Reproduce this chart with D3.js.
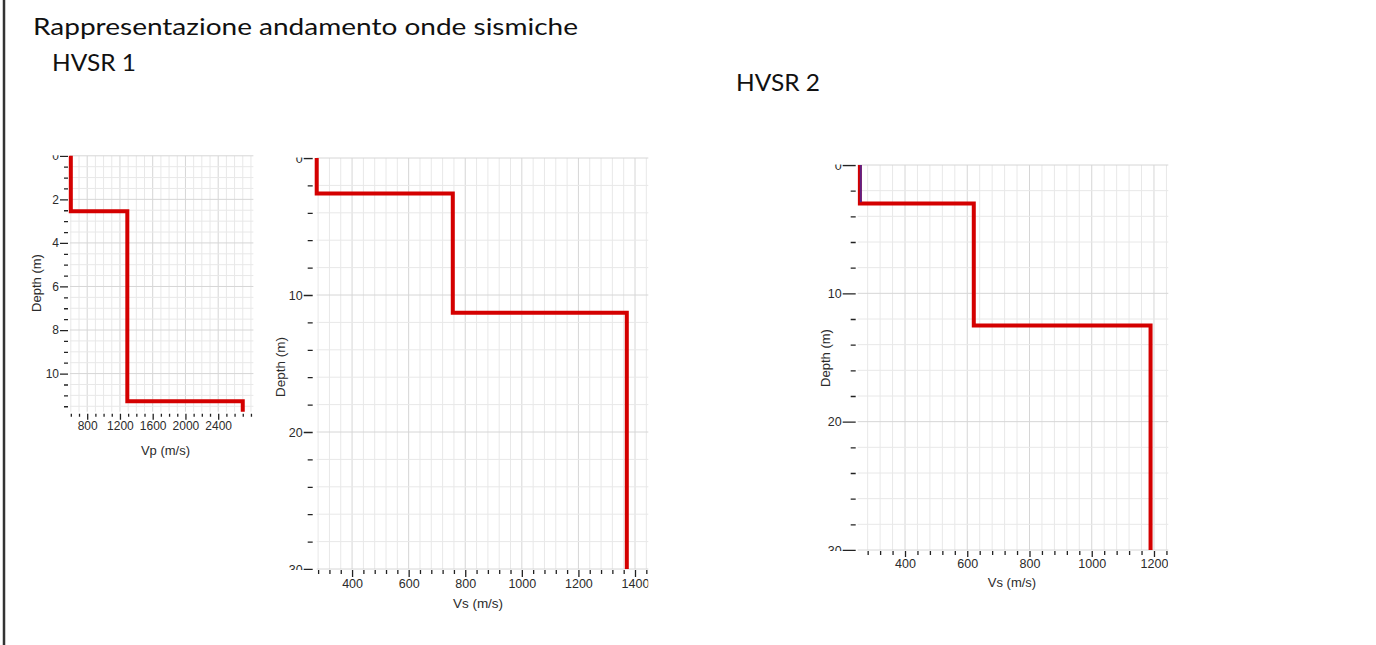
<!DOCTYPE html>
<html>
<head>
<meta charset="utf-8">
<script src="https://cdn.jsdelivr.net/npm/d3@7"></script>
<style>
  html, body { margin: 0; padding: 0; background: #fff; }
  svg { display: block; }
</style>
</head>
<body>
<svg id="chart" width="1376" height="645"></svg>
<script>
// ---- Data ----
const titleText = "Rappresentazione andamento onde sismiche";
const groupLabels = ["HVSR 1", "HVSR 2"];

// HVSR 1 – Vp profile
const vpLayerTop = [0, 2.55, 11.27];      // depth (m) at top of each layer
const vpValues   = [600, 1290, 2700];     // Vp (m/s)
const vpDepthMax = 11.75;
const vpXTicks   = [800, 1200, 1600, 2000, 2400];
const vpYTicks   = [0, 2, 4, 6, 8, 10];

// HVSR 1 – Vs profile
const vs1LayerTop = [0, 2.6, 11.3];
const vs1Values   = [275, 756, 1371];
const vs1DepthMax = 30;
const vs1XTicks   = [400, 600, 800, 1000, 1200, 1400];
const vs1YTicks   = [0, 10, 20, 30];

// HVSR 2 – Vs profile
const vs2LayerTop = [0, 3.0, 12.5];
const vs2Values   = [255, 621, 1189];
const vs2DepthMax = 30;
const vs2XTicks   = [400, 600, 800, 1000, 1200];
const vs2YTicks   = [0, 10, 20, 30];
// second (blue) trace partly visible under the red one in HVSR 2
const vs2BlueLayerTop = [0];
const vs2BlueValues   = [258];
const vs2BlueDepthMax = 2.9;

// ---- Layout ----
const svg = d3.select("#chart");
const RED = "#d40000";
const TXT = "#2b2b2b";
const FONT = "'Liberation Sans', Arial, sans-serif";
const TFONT = "Lato, 'Open Sans', sans-serif";

// left frame line
svg.append("line").attr("x1", 4).attr("x2", 4).attr("y1", 0).attr("y2", 645)
  .attr("stroke", "#333").attr("stroke-width", 2.5);

svg.append("text").attr("x", 33).attr("y", 35)
  .attr("font-family", TFONT).attr("font-size", 23)
  .attr("fill", "#111").attr("textLength", 545).attr("lengthAdjust", "spacingAndGlyphs")
  .text(titleText);
svg.append("text").attr("x", 52).attr("y", 71)
  .attr("font-family", TFONT).attr("font-size", 23)
  .attr("fill", "#111").attr("textLength", 84).attr("lengthAdjust", "spacingAndGlyphs")
  .text(groupLabels[0]);
svg.append("text").attr("x", 736).attr("y", 91)
  .attr("font-family", TFONT).attr("font-size", 23)
  .attr("fill", "#111").attr("textLength", 84).attr("lengthAdjust", "spacingAndGlyphs")
  .text(groupLabels[1]);

function stepPoints(tops, vals, dmax) {
  const pts = [];
  for (let i = 0; i < vals.length; i++) {
    const d0 = tops[i];
    const d1 = i + 1 < tops.length ? tops[i + 1] : dmax;
    pts.push([vals[i], d0]);
    pts.push([vals[i], d1]);
  }
  return pts;
}

let clipId = 0;
function panel(cfg) {
  const x = d3.scaleLinear().domain(cfg.xDomain).range([cfg.left, cfg.right]);
  const y = d3.scaleLinear().domain(cfg.yDomain).range([cfg.top, cfg.bottom]);
  const g = svg.append("g");

  // grid
  const xMinor = d3.range(cfg.xMinorStart, cfg.xDomain[1] + 1e-9, cfg.xMinorStep);
  const yMinor = d3.range(cfg.yDomain[0], cfg.yDomain[1] + 1e-9, cfg.yMinorStep);
  g.append("g").selectAll("line").data(xMinor).join("line")
    .attr("x1", d => x(d)).attr("x2", d => x(d))
    .attr("y1", cfg.top).attr("y2", cfg.bottom)
    .attr("stroke", d => cfg.xTicks.includes(d) ? "#d6d6d6" : "#e8e8e8").attr("stroke-width", 1);
  g.append("g").selectAll("line").data(yMinor).join("line")
    .attr("x1", cfg.left).attr("x2", cfg.right)
    .attr("y1", d => y(d)).attr("y2", d => y(d))
    .attr("stroke", d => cfg.yTicks.includes(d) ? "#d6d6d6" : "#e8e8e8").attr("stroke-width", 1);

  // y axis (clipped to plot height so end labels are cut like the reference)
  const cy = "clipy" + (clipId++);
  svg.append("clipPath").attr("id", cy).append("rect")
    .attr("x", cfg.left - 80).attr("y", cfg.top - 0.5).attr("width", 80).attr("height", cfg.bottom - cfg.top + 1.5);
  const yAxisMajor = d3.axisLeft(y).tickValues(cfg.yTicks).tickSize(cfg.majorLen).tickPadding(1).tickFormat(d3.format("d"));
  const yAxisMinor = d3.axisLeft(y).tickValues(yMinor.filter(v => !cfg.yTicks.includes(v))).tickSize(cfg.minorLen).tickFormat("");
  const yOuter = g.append("g").attr("clip-path", `url(#${cy})`);
  const ya = yOuter.append("g").attr("transform", `translate(${cfg.left - cfg.tickGap},0)`);
  ya.append("g").call(yAxisMinor);
  ya.append("g").call(yAxisMajor);
  ya.selectAll(".domain").remove();
  ya.selectAll("line").attr("stroke", "#222").attr("stroke-width", 1.3);
  ya.selectAll("text").attr("font-family", FONT).attr("font-size", cfg.fs).attr("fill", TXT);

  // x axis (clipped on the right)
  const cx = "clipx" + (clipId++);
  svg.append("clipPath").attr("id", cx).append("rect")
    .attr("x", cfg.left - 40).attr("y", cfg.bottom - 2).attr("width", cfg.right - cfg.left + 40).attr("height", 40);
  const xAxisMajor = d3.axisBottom(x).tickValues(cfg.xTicks).tickSize(cfg.xMajorLen).tickPadding(2).tickFormat(d3.format("d"));
  const xAxisMinor = d3.axisBottom(x).tickValues(xMinor.filter(v => !cfg.xTicks.includes(v))).tickSize(cfg.xMinorLen).tickFormat("");
  const xOuter = g.append("g").attr("clip-path", `url(#${cx})`);
  const xa = xOuter.append("g").attr("transform", `translate(0,${cfg.bottom + cfg.xTickGap})`);
  xa.append("g").call(xAxisMinor);
  xa.append("g").call(xAxisMajor);
  xa.selectAll(".domain").remove();
  xa.selectAll("line").attr("stroke", "#222").attr("stroke-width", 1.3);
  xa.selectAll("text").attr("font-family", FONT).attr("font-size", cfg.fs).attr("fill", TXT);

  // axis titles
  g.append("text").attr("x", cfg.xLabelX).attr("y", cfg.xLabelY).attr("text-anchor", "middle")
    .attr("font-family", FONT).attr("font-size", cfg.lfs)
    .attr("fill", TXT).text(cfg.xLabel);
  g.append("text").attr("transform", `translate(${cfg.yLabelX},${cfg.yLabelY}) rotate(-90)`)
    .attr("text-anchor", "middle").attr("dominant-baseline", "middle")
    .attr("font-family", FONT).attr("font-size", cfg.lfs)
    .attr("fill", TXT).text("Depth (m)");

  // profile
  const line = d3.line().x(d => x(d[0])).y(d => y(d[1]));
  g.append("path").datum(stepPoints(cfg.tops, cfg.vals, cfg.yDomain[1]))
    .attr("d", line).attr("fill", "none").attr("stroke", RED)
    .attr("stroke-width", 4).attr("stroke-linejoin", "miter");
  if (cfg.blue) {
    g.append("path").datum(stepPoints(cfg.blue.tops, cfg.blue.vals, cfg.blue.dmax))
      .attr("d", line).attr("fill", "none").attr("stroke", "#3a2bb0")
      .attr("stroke-opacity", 0.75).attr("stroke-width", 2);
  }
}

panel({
  left: 70, right: 253.4, top: 155.8, bottom: 411.7,
  xDomain: [590, 2830], yDomain: [0, vpDepthMax],
  xTicks: vpXTicks, yTicks: vpYTicks,
  xMinorStart: 600, xMinorStep: 100, yMinorStep: 0.5,
  majorLen: 8, minorLen: 4, tickGap: 2, xMajorLen: 6, xMinorLen: 3, xTickGap: 2,
  fs: 12, lfs: 13, xLabel: "Vp (m/s)", xLabelX: 165.5, xLabelY: 455, yLabelX: 38, yLabelY: 283,
  tops: vpLayerTop, vals: vpValues
});

panel({
  left: 316.7, right: 648.3, top: 158, bottom: 569,
  xDomain: [275, 1447], yDomain: [0, vs1DepthMax],
  xTicks: vs1XTicks, yTicks: vs1YTicks,
  xMinorStart: 280, xMinorStep: 40, yMinorStep: 2,
  majorLen: 9, minorLen: 5, tickGap: 4, xMajorLen: 7, xMinorLen: 4, xTickGap: 1,
  fs: 12.5, lfs: 13.5, xLabel: "Vs (m/s)", xLabelX: 478, xLabelY: 608, yLabelX: 281, yLabelY: 367,
  tops: vs1LayerTop, vals: vs1Values
});

panel({
  left: 857.7, right: 1168.3, top: 165, bottom: 550,
  xDomain: [248, 1246], yDomain: [0, vs2DepthMax],
  xTicks: vs2XTicks, yTicks: vs2YTicks,
  xMinorStart: 280, xMinorStep: 40, yMinorStep: 2,
  majorLen: 13, minorLen: 5, tickGap: 2, xMajorLen: 6, xMinorLen: 4, xTickGap: 1,
  fs: 12.5, lfs: 13, xLabel: "Vs (m/s)", xLabelX: 1012, xLabelY: 587, yLabelX: 827, yLabelY: 358,
  tops: vs2LayerTop, vals: vs2Values,
  blue: { tops: vs2BlueLayerTop, vals: vs2BlueValues, dmax: vs2BlueDepthMax }
});
</script>
</body>
</html>
